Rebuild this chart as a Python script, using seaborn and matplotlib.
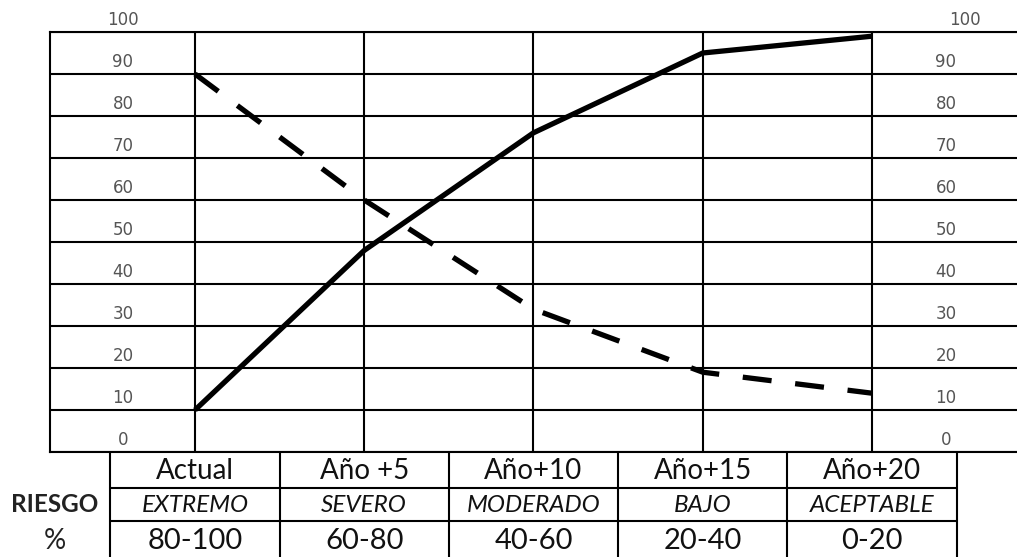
import numpy as np
import pandas as pd
import matplotlib
matplotlib.use("Agg")
import matplotlib.pyplot as plt
import matplotlib.transforms as mtransforms
import seaborn as sns

# ---------------- data ----------------
categories = ["Actual", "Año +5", "Año+10", "Año+15", "Año+20"]
riesgo_labels = ["EXTREMO", "SEVERO", "MODERADO", "BAJO", "ACEPTABLE"]
pct_labels = ["80-100", "60-80", "40-60", "20-40", "0-20"]
solid_values = [10, 48, 76, 95, 99]
dashed_values = [90, 60, 34, 19, 14]
y_ticks = [0, 10, 20, 30, 40, 50, 60, 70, 80, 90, 100]
row_titles = ["RIESGO", "%"]

# ---------------- layout ----------------
W, H = 1017, 557
STEP = 169.25          # pixels between category columns
X0 = 195               # pixel of first category
LEFT = 50              # pixel of left border
CHART_BOTTOM = 105     # pixels from bottom
CHART_H = 420

sns.set_theme(style="white")
plt.rcParams["font.family"] = ["DejaVu Sans"]

fig = plt.figure(figsize=(W / 100, H / 100), dpi=100)
ax = fig.add_axes([LEFT / W, CHART_BOTTOM / H, (W - LEFT) / W, CHART_H / H])

pos = np.arange(len(categories))
df = pd.DataFrame({"pos": pos, "cat": categories,
                   "solid": solid_values, "dashed": dashed_values})

sns.lineplot(data=df, x="pos", y="solid", ax=ax, color="black", lw=3.8,
             solid_capstyle="butt", zorder=3)
sns.lineplot(data=df, x="pos", y="dashed", ax=ax, color="black", lw=3.8,
             linestyle=(0, (5.5, 4.5)), dash_capstyle="butt", zorder=3)

ax.set_xlim((LEFT - X0) / STEP, (W - X0) / STEP)
ax.set_ylim(0, 100)
ax.set_xticks(pos)
ax.set_yticks(y_ticks)
ax.set_xticklabels([])
ax.set_yticklabels([])
ax.tick_params(length=0)
ax.set_xlabel("")
ax.set_ylabel("")
ax.grid(True, color="black", lw=1.5)
ax.set_axisbelow(True)
for side in ["left", "top", "bottom"]:
    ax.spines[side].set_visible(True)
    ax.spines[side].set_color("black")
    ax.spines[side].set_linewidth(1.5)
ax.spines["right"].set_visible(False)

# y labels inside the grid (left and right)
off = mtransforms.offset_copy(ax.transData, fig=fig, y=12, units="dots")
xl = (123 - X0) / STEP
xr = (946 - X0) / STEP
xr100 = (965 - X0) / STEP
for v in y_ticks:
    ax.text(xl, v, str(v), transform=off, ha="center", va="center",
            fontsize=12, color="#555555")
    ax.text(xr100 if v == 100 else xr, v, str(v), transform=off,
            ha="center", va="center", fontsize=12, color="#555555")

# ---------------- table below ----------------
tax = fig.add_axes([0, 0, 1, CHART_BOTTOM / H])
tax.set_xlim(-X0 / STEP, (W - X0) / STEP)
tax.set_ylim(0, CHART_BOTTOM)
tax.axis("off")

n = len(categories)
for i in range(n + 1):
    tax.plot([i - 0.5, i - 0.5], [0, CHART_BOTTOM], color="black", lw=1.5,
             clip_on=False)
for yy in [69, 36]:
    tax.plot([-0.5, n - 0.5], [yy, yy], color="black", lw=1.5, clip_on=False)

for i in range(n):
    tax.text(i, 86, categories[i], ha="center", va="center",
             fontsize=20, family="Lato", color="#111111")
    tax.text(i, 52, riesgo_labels[i], ha="center", va="center",
             fontsize=17.5, family="Lato", style="italic", color="#111111")
    tax.text(i, 16, pct_labels[i], ha="center", va="center",
             fontsize=21, family="Lato", color="#111111")

xt = (55 - X0) / STEP
tax.text(xt, 52, row_titles[0], ha="center", va="center", fontsize=17.5,
         family="Lato", weight="bold", color="#222222")
tax.text(xt, 16, row_titles[1], ha="center", va="center", fontsize=20,
         family="Lato", color="#222222")

fig.savefig("out.png", dpi=100)
